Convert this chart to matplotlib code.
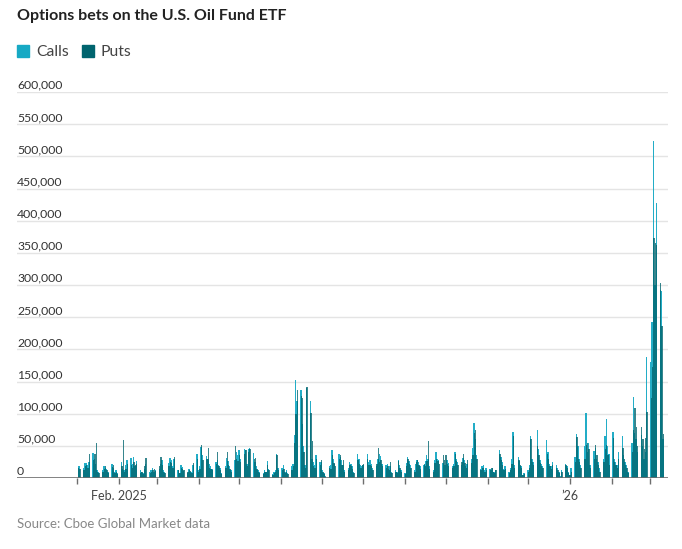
import datetime as dt
import numpy as np
import pandas as pd
import matplotlib
matplotlib.use("Agg")
import matplotlib.pyplot as plt
import matplotlib.dates as mdates
from matplotlib.patches import Rectangle

plt.rcParams['font.family'] = ['Lato', 'DejaVu Sans']

# daily volume, thousands of contracts, one list per month (business days)
calls_2025_01 = [19, 18, 15, 23, 24, 20, 25, 39, 30, 22, 13, 10, 12, 18, 15, 14, 10, 22, 16, 9, 12, 8]
puts_2025_01 = [16, 14, 12, 18, 20, 15, 37, 28, 37, 55, 10, 8, 9, 14, 18, 12, 7, 17, 20, 8, 10, 6]
calls_2025_02 = [25, 14, 12, 20, 28, 31, 22, 33, 18, 26, 12, 10, 8, 14, 22, 9, 12, 15, 10, 13]
puts_2025_02 = [18, 59, 10, 14, 22, 20, 16, 25, 20, 22, 8, 9, 6, 18, 31, 7, 10, 12, 14, 11]
calls_2025_03 = [14, 22, 28, 12, 10, 24, 31, 28, 18, 30, 12, 8, 20, 17, 11, 8, 14, 10, 9, 20, 38]
puts_2025_03 = [18, 33, 20, 10, 8, 18, 25, 24, 16, 33, 13, 7, 15, 14, 12, 9, 12, 11, 8, 24, 30]
calls_2025_04 = [12, 18, 48, 36, 34, 30, 22, 18, 14, 25, 28, 20, 15, 8, 18, 31, 26, 18, 12, 28, 41, 36]
puts_2025_04 = [10, 14, 51, 28, 30, 46, 16, 14, 12, 22, 41, 18, 12, 6, 15, 41, 20, 14, 10, 50, 30, 26]
calls_2025_05 = [44, 30, 45, 43, 22, 45, 47, 39, 25, 18, 12, 10, 8, 12, 10, 26, 14, 6, 10, 12, 37, 15]
puts_2025_05 = [36, 25, 38, 44, 18, 40, 45, 30, 31, 14, 10, 8, 6, 10, 9, 20, 12, 5, 8, 10, 35, 12]
calls_2025_06 = [15, 20, 10, 12, 8, 18, 22, 67, 153, 120, 137, 84, 50, 20, 140, 119, 30, 25, 20, 35, 25]
puts_2025_06 = [12, 14, 8, 10, 6, 12, 18, 54, 100, 137, 127, 125, 40, 15, 141, 101, 57, 18, 15, 30, 20]
calls_2025_07 = [25, 12, 8, 3, 18, 20, 44, 30, 22, 38, 32, 28, 20, 12, 15, 25, 22, 18, 10, 38, 30, 20, 18]
puts_2025_07 = [28, 10, 6, 2, 15, 14, 36, 24, 18, 30, 36, 20, 28, 10, 12, 20, 18, 14, 8, 28, 22, 16, 20]
calls_2025_08 = [20, 38, 25, 28, 22, 15, 18, 30, 38, 34, 22, 20, 22, 14, 18, 10, 12, 10, 28, 20, 12]
puts_2025_08 = [22, 30, 20, 20, 18, 12, 22, 46, 25, 28, 18, 16, 18, 12, 25, 8, 10, 8, 26, 15, 10]
calls_2025_09 = [8, 23, 32, 26, 20, 12, 22, 28, 25, 18, 20, 26, 36, 30, 18, 12, 28, 41, 30, 28, 23, 20]
puts_2025_09 = [6, 18, 30, 22, 16, 10, 25, 28, 20, 14, 22, 18, 26, 57, 14, 10, 24, 30, 26, 22, 36, 28]
calls_2025_10 = [20, 28, 24, 18, 22, 41, 30, 25, 20, 31, 28, 18, 22, 30, 46, 85, 60, 35, 14, 18, 20, 12, 15]
puts_2025_10 = [36, 22, 18, 15, 18, 38, 26, 20, 25, 38, 24, 16, 28, 24, 35, 70, 74, 30, 12, 15, 16, 10, 12]
calls_2025_11 = [14, 12, 15, 10, 13, 43, 33, 25, 14, 18, 10, 15, 30, 71, 20, 33, 26, 18, 5, 8]
puts_2025_11 = [12, 15, 10, 8, 12, 38, 28, 20, 12, 14, 8, 12, 22, 65, 16, 28, 20, 15, 4, 6]
calls_2025_12 = [12, 20, 66, 30, 25, 74, 45, 28, 22, 18, 59, 40, 22, 18, 25, 20, 15, 10, 3, 12, 22, 18, 10]
puts_2025_12 = [10, 16, 60, 25, 20, 50, 35, 24, 18, 15, 38, 30, 18, 14, 20, 15, 12, 8, 2, 10, 20, 15, 8]
calls_2026_01 = [5, 15, 33, 68, 49, 30, 20, 49, 101, 40, 54, 20, 42, 46, 30, 25, 15, 30, 66, 92, 50, 37]
puts_2026_01 = [4, 10, 25, 64, 30, 25, 15, 30, 51, 54, 45, 15, 30, 51, 35, 20, 10, 25, 45, 51, 35, 20]
calls_2026_02 = [72, 30, 25, 20, 41, 65, 35, 25, 20, 10, 54, 126, 70, 60, 40, 67, 50, 30, 40, 188]
puts_2026_02 = [62, 25, 20, 15, 30, 46, 30, 20, 15, 8, 40, 75, 109, 80, 50, 80, 61, 45, 62, 102]
calls_2026_03 = [181, 243, 524, 300, 427, 293, 290, 60]
puts_2026_03 = [125, 173, 373, 365, 362, 303, 236, 68]

calls = np.array(calls_2025_01 + calls_2025_02 + calls_2025_03 + calls_2025_04 + calls_2025_05
                 + calls_2025_06 + calls_2025_07 + calls_2025_08 + calls_2025_09 + calls_2025_10
                 + calls_2025_11 + calls_2025_12 + calls_2026_01 + calls_2026_02 + calls_2026_03) * 1000
puts = np.array(puts_2025_01 + puts_2025_02 + puts_2025_03 + puts_2025_04 + puts_2025_05
                + puts_2025_06 + puts_2025_07 + puts_2025_08 + puts_2025_09 + puts_2025_10
                + puts_2025_11 + puts_2025_12 + puts_2026_01 + puts_2026_02 + puts_2026_03) * 1000
dates = pd.bdate_range('2025-01-02', '2026-03-11')

yticks = [0, 50000, 100000, 150000, 200000, 250000, 300000, 350000, 400000, 450000, 500000, 550000, 600000]
xtick_labels = {'2025-02-01': 'Feb. 2025', '2026-01-01': '\u201926'}

call_color = '#17a9c4'
put_color = '#00646e'

fig = plt.figure(figsize=(6.82, 5.49), dpi=100)
ax = fig.add_axes([17 / 682, 1 - 478 / 549, 651 / 682, 386 / 549])

# calls and puts drawn per day, puts slightly to the right and in front
x = mdates.date2num(dates)
ax.bar(x - 0.15, calls, width=1.0, color=call_color, alpha=0.95, linewidth=0, zorder=2)
ax.bar(x + 0.15, puts, width=1.0, color=put_color, alpha=0.78, linewidth=0, zorder=3)

feb1 = mdates.date2num(dt.datetime(2025, 2, 1))
ax.set_xlim(feb1 - 75.5, feb1 + 406.6)
ax.set_ylim(0, 600000)

for s in ax.spines.values():
    s.set_visible(False)
ax.set_yticks([])
for v in yticks:
    ax.axhline(v, color='#e4e4e4', lw=1, zorder=1)
    ax.annotate(f'{v:,}', xy=(0, v), xycoords=('axes fraction', 'data'),
                xytext=(0, 0.8), textcoords='offset points', ha='left', va='bottom',
                fontsize=8.8, color='#333333')
ax.axhline(0, color='#6e6e6e', lw=1.2, zorder=4)

months = pd.date_range('2025-01-01', '2026-03-01', freq='MS')
ax.set_xticks(mdates.date2num(months))
ax.set_xticklabels([xtick_labels.get(m.strftime('%Y-%m-%d'), '') for m in months])
ax.tick_params(axis='x', length=4, width=1, color='#6e6e6e', pad=5, labelsize=9, labelcolor='#444444')

fig.text(17 / 682, 1 - 16 / 549, 'Options bets on the U.S. Oil Fund ETF', fontsize=11.5,
         fontweight='bold', color='#222222', ha='left', va='center')

fig.patches.append(Rectangle((17 / 682, 1 - 57 / 549), 12 / 682, 12 / 549,
                             transform=fig.transFigure, color=call_color))
fig.text(36 / 682, 1 - 52 / 549, 'Calls', fontsize=11.3, color='#444444', ha='left', va='center')
fig.patches.append(Rectangle((82 / 682, 1 - 57 / 549), 12 / 682, 12 / 549,
                             transform=fig.transFigure, color=put_color))
fig.text(101 / 682, 1 - 52 / 549, 'Puts', fontsize=11.3, color='#444444', ha='left', va='center')

fig.text(17 / 682, 1 - 524 / 549, 'Source: Cboe Global Market data', fontsize=9.5,
         color='#888888', ha='left', va='center')

fig.savefig('out.png', dpi=100)
